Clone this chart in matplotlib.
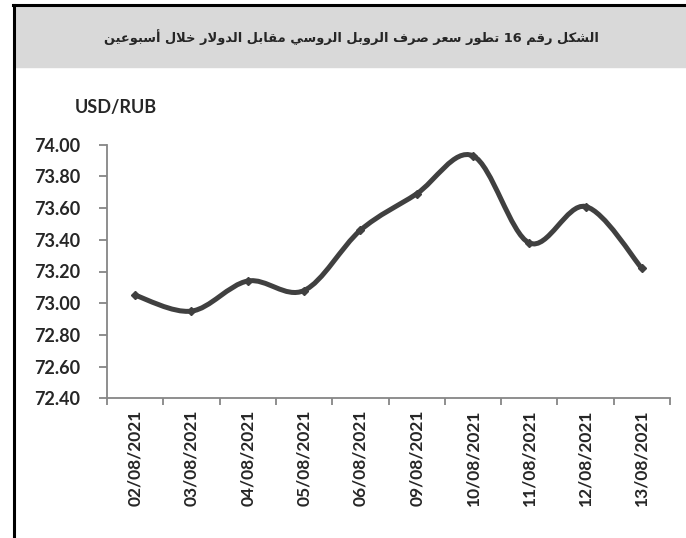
import numpy as np
import matplotlib
matplotlib.use("Agg")
from matplotlib import pyplot as plt
from matplotlib.path import Path
from matplotlib.patches import PathPatch, Rectangle
from matplotlib.lines import Line2D

# --- data ---
dates = ["02/08/2021", "03/08/2021", "04/08/2021", "05/08/2021", "06/08/2021",
         "09/08/2021", "10/08/2021", "11/08/2021", "12/08/2021", "13/08/2021"]
usd_rub = [73.05, 72.95, 73.14, 73.08, 73.46, 73.69, 73.93, 73.38, 73.61, 73.22]
y_ticks = [72.40, 72.60, 72.80, 73.00, 73.20, 73.40, 73.60, 73.80, 74.00]

title = "الشكل رقم 16 تطور سعر صرف الروبل الروسي مقابل الدولار خلال أسبوعين"
unit_label = "USD/RUB"

LINE_COLOR = "#404040"
AXIS_COLOR = "#868686"
TEXT_COLOR = "#262626"

# Arabic contextual forms (iso, fin, ini, med); 2-tuple = right-joining only
FORMS = {
    "ا": (0xFE8D, 0xFE8E), "أ": (0xFE83, 0xFE84), "د": (0xFEA9, 0xFEAA),
    "ر": (0xFEAD, 0xFEAE), "و": (0xFEED, 0xFEEE),
    "ب": (0xFE8F, 0xFE90, 0xFE91, 0xFE92), "ت": (0xFE95, 0xFE96, 0xFE97, 0xFE98),
    "خ": (0xFEA5, 0xFEA6, 0xFEA7, 0xFEA8), "س": (0xFEB1, 0xFEB2, 0xFEB3, 0xFEB4),
    "ش": (0xFEB5, 0xFEB6, 0xFEB7, 0xFEB8), "ص": (0xFEB9, 0xFEBA, 0xFEBB, 0xFEBC),
    "ط": (0xFEC1, 0xFEC2, 0xFEC3, 0xFEC4), "ع": (0xFEC9, 0xFECA, 0xFECB, 0xFECC),
    "ف": (0xFED1, 0xFED2, 0xFED3, 0xFED4), "ق": (0xFED5, 0xFED6, 0xFED7, 0xFED8),
    "ك": (0xFED9, 0xFEDA, 0xFEDB, 0xFEDC), "ل": (0xFEDD, 0xFEDE, 0xFEDF, 0xFEE0),
    "م": (0xFEE1, 0xFEE2, 0xFEE3, 0xFEE4), "ن": (0xFEE5, 0xFEE6, 0xFEE7, 0xFEE8),
    "ي": (0xFEF1, 0xFEF2, 0xFEF3, 0xFEF4),
}
LAM_ALEF = {"ا": (0xFEFB, 0xFEFC), "أ": (0xFEF7, 0xFEF8)}


def shape_word(word):
    ''' 簡易アラビア文字整形 (表示順に並べ替え) '''
    if not any(c in FORMS for c in word):
        return word
    out = []
    i = 0
    prev_joins = False
    while i < len(word):
        c = word[i]
        if c == "ل" and i + 1 < len(word) and word[i + 1] in LAM_ALEF:
            f = LAM_ALEF[word[i + 1]]
            out.append(chr(f[1] if prev_joins else f[0]))
            prev_joins = False
            i += 2
            continue
        f = FORMS[c]
        nxt = i + 1 < len(word) and word[i + 1] in FORMS
        if len(f) == 2:
            out.append(chr(f[1] if prev_joins else f[0]))
            prev_joins = False
        else:
            if prev_joins and nxt:
                out.append(chr(f[3]))
            elif prev_joins:
                out.append(chr(f[1]))
            elif nxt:
                out.append(chr(f[2]))
            else:
                out.append(chr(f[0]))
            prev_joins = nxt
        i += 1
    return "".join(reversed(out))


def shape_rtl(text):
    return " ".join(shape_word(w) for w in reversed(text.split(" ")))


def smooth_path(x, y, t=1 / 6):
    ''' Excel風の平滑線 (Catmull-Rom -> Bezier) '''
    n = len(x)
    verts = [(x[0], y[0])]
    codes = [Path.MOVETO]
    for i in range(n - 1):
        x0, y0 = (x[i - 1], y[i - 1]) if i > 0 else (x[i], y[i])
        x3, y3 = (x[i + 2], y[i + 2]) if i + 2 < n else (x[i + 1], y[i + 1])
        c1 = (x[i] + (x[i + 1] - x0) * t, y[i] + (y[i + 1] - y0) * t)
        c2 = (x[i + 1] - (x3 - x[i]) * t, y[i + 1] - (y3 - y[i]) * t)
        verts += [c1, c2, (x[i + 1], y[i + 1])]
        codes += [Path.CURVE4] * 3
    return Path(verts, codes)


plt.rcParams['font.family'] = ['Lato', 'DejaVu Sans']
plt.rcParams['font.weight'] = 'bold'

fig = plt.figure(figsize=(6.86, 5.38), dpi=100)
W, H = 686, 538

# 枠とタイトル帯
fig.patches.append(Rectangle((15 / W, 1 - 67 / H), 1, 61 / H,
                             transform=fig.transFigure, color="#d9d9d9", zorder=0))
fig.lines.append(Line2D([14 / W, 14 / W], [0, 1 - 5 / H], transform=fig.transFigure,
                        color="black", lw=2.2))
fig.lines.append(Line2D([13 / W, 1], [1 - 5 / H, 1 - 5 / H], transform=fig.transFigure,
                        color="black", lw=2.2))
fig.text(351 / W, 1 - 37 / H, shape_rtl(title), ha="center", va="center",
         fontsize=9.4, family=['DejaVu Sans'], weight='bold', color=TEXT_COLOR)
fig.text(75 / W, 1 - 107 / H, unit_label, ha="left", va="center",
         fontsize=13, color=TEXT_COLOR)

ax = fig.add_axes([107 / W, 1 - 398.3 / H, (670 - 107) / W, (398.3 - 144.7) / H])

xs = np.arange(len(dates))
ax.add_patch(PathPatch(smooth_path(xs, usd_rub), fill=False, ec=LINE_COLOR,
                       lw=3.6, capstyle="round", joinstyle="round"))
ax.plot(xs, usd_rub, ls="none", marker="D", ms=4, color=LINE_COLOR)

ax.set_xlim(-0.5, len(dates) - 0.5)
ax.set_ylim(y_ticks[0], y_ticks[-1])
ax.set_yticks(y_ticks)
ax.set_yticklabels(["%.2f" % v for v in y_ticks])
ax.set_xticks(xs)
ax.set_xticklabels(dates, rotation=90)
ax.set_xticks(np.arange(len(dates) + 1) - 0.5, minor=True)

for s in ["top", "right"]:
    ax.spines[s].set_visible(False)
for s in ["left", "bottom"]:
    ax.spines[s].set_color(AXIS_COLOR)
    ax.spines[s].set_linewidth(1.3)

ax.tick_params(axis="x", which="major", length=0, pad=8, labelsize=12.5,
               labelcolor=TEXT_COLOR)
ax.tick_params(axis="x", which="minor", length=5, width=1.3, color=AXIS_COLOR)
ax.tick_params(axis="y", length=6, width=1.3, color=AXIS_COLOR, pad=13.5,
               labelsize=13, labelcolor=TEXT_COLOR)

fig.savefig("out.png", dpi=100)
